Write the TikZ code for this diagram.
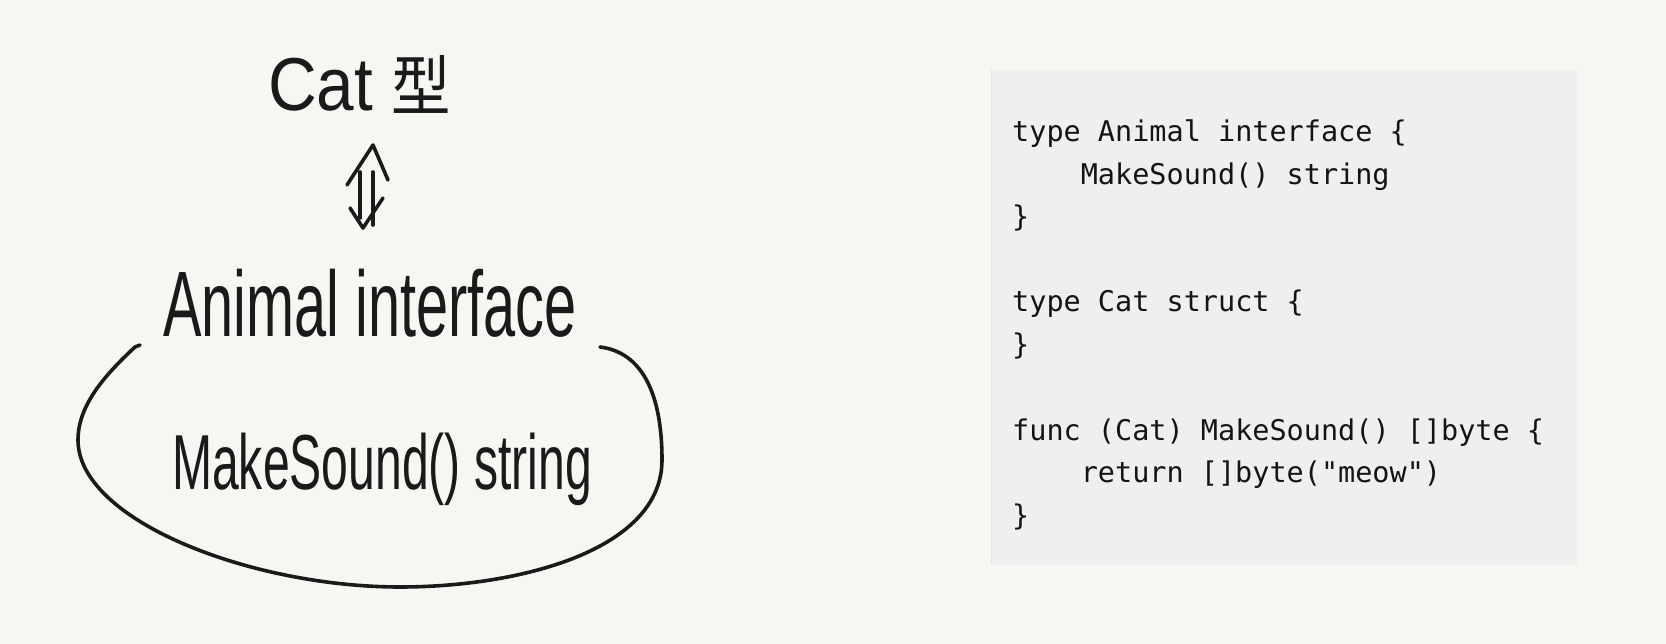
\documentclass[tikz,border=0pt]{standalone}
\usepackage{fontspec}
\setmainfont{Liberation Sans}
\newfontfamily\codefont{DejaVu Sans Mono}
\newfontfamily\cjkfont{Noto Sans CJK JP}
\definecolor{bgcol}{HTML}{F6F6F2}
\definecolor{boxcol}{HTML}{EFEFEF}
\definecolor{boxedge}{HTML}{E4E4E2}
\definecolor{ink}{HTML}{1A1A1A}
\definecolor{codeink}{HTML}{141414}
\tikzset{
  pen/.style={draw=ink, line width=3.6pt, line cap=round, line join=round},
  hand/.style={inner sep=0pt, anchor=base west, text=ink},
  codeline/.style={inner sep=0pt, anchor=base west, text=codeink,
    font=\codefont\fontsize{28.5}{34}\selectfont},
}
\begin{document}
\begin{tikzpicture}[x=1pt,y=-1pt]
\fill[bgcol] (0,0) rectangle (1666,644);
\useasboundingbox (0,0) rectangle (1666,644);

% code box
\fill[boxcol] (991,70) rectangle (1577,565);
\draw[boxedge, line width=1pt] (991.5,70) -- (991.5,565);

\node[codeline] (c1) at (1012,142) {type Animal interface \{};
\node[codeline] (c2) at (1080.6,185) {MakeSound() string};
\node[codeline] (c3) at (1012,227) {\}};
\node[codeline] (c4) at (1012,312) {type Cat struct \{};
\node[codeline] (c5) at (1012,355) {\}};
\node[codeline] (c6) at (1012,440) {func (Cat) MakeSound() []byte \{};
\node[codeline] (c7) at (1080.6,482) {return []byte("meow")};
\node[codeline] (c8) at (1012,525) {\}};

% handwritten part
\node[hand, xscale=0.9, font=\fontsize{75}{80}\selectfont] (cat) at (268,111)
  {Cat {\cjkfont\fontsize{66}{70}\selectfont 型}};
\node[hand, xscale=0.93, yscale=1.5, font=\fontsize{62}{66}\selectfont] (animal) at (163,337)
  {Animal interface};
\node[hand, xscale=0.925, yscale=1.5, font=\fontsize{52}{56}\selectfont] (method) at (172,489)
  {MakeSound() string};

% double arrow between "Cat 型" and "Animal interface"
\coordinate (aT) at (373,145);
\coordinate (aB) at (363,228);
\draw[pen] ([shift={(-26,40)}]aT) -- (aT) -- ([shift={(15,35)}]aT);
\draw[pen] ([shift={(-13,27)}]aT) -- ([shift={(-13,73)}]aT);
\draw[pen] ([shift={(0,27)}]aT) -- ([shift={(0,80)}]aT);
\draw[pen] ([shift={(-13,-20)}]aB) -- (aB) -- ([shift={(20,-30)}]aB);

% open loop around the method
\draw[pen] (140,345) -- (135,347)
  .. controls (105,375) and (78,405) .. (78,440)
  .. controls (78,520) and (250,587) .. (400,587)
  .. controls (520,587) and (662,550) .. (662,460)
  .. controls (662,390) and (640,352) .. (600,347);
\end{tikzpicture}
\end{document}
